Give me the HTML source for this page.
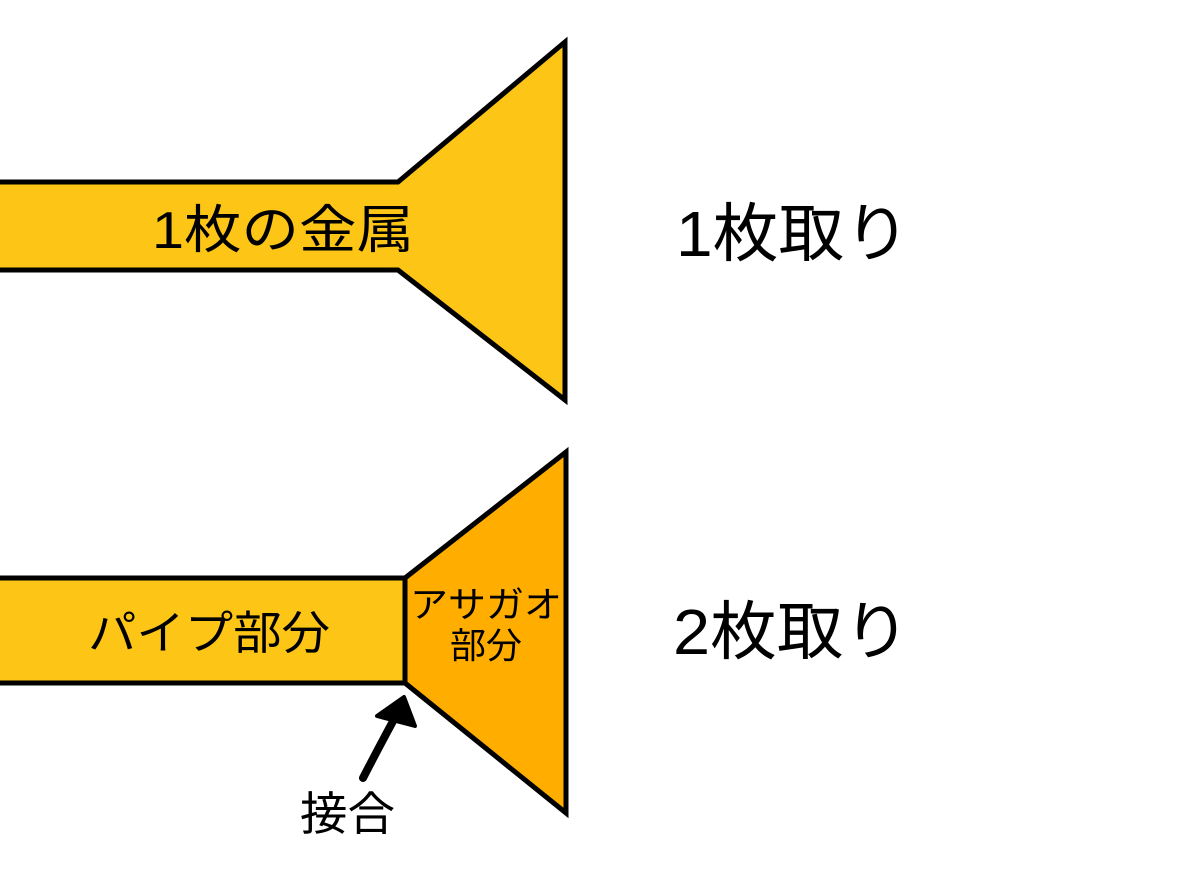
<!DOCTYPE html>
<html><head><meta charset="utf-8"><style>
html,body{margin:0;padding:0;background:#fff;}
svg{display:block;}
text{font-family:"Liberation Sans","Noto Sans CJK JP",sans-serif;fill:#000;}
</style></head><body>
<svg width="1179" height="884" viewBox="0 0 1179 884" xmlns="http://www.w3.org/2000/svg">
<polygon points="-5,182 398,182 565,42 565,400 398,270 -5,270" fill="#FDC515" stroke="#000" stroke-width="5" stroke-linejoin="miter"/>
<rect x="-5" y="578" width="410" height="105" fill="#FDC515" stroke="#000" stroke-width="5"/>
<polygon points="405,578 566,452 566,813 405,683" fill="#FFAE00" stroke="#000" stroke-width="5"/>
<path d="M363,778 Q380,745 398,712" stroke="#000" stroke-width="8" fill="none" stroke-linecap="round"/>
<polygon points="404,697 377,716 415,726" fill="#000" stroke="#000" stroke-width="4" stroke-linejoin="round"/>
<text x="283" y="248" font-size="52" text-anchor="middle" textLength="262" lengthAdjust="spacingAndGlyphs">1枚の金属</text>
<text x="676" y="256" font-size="64" textLength="234" lengthAdjust="spacingAndGlyphs">1枚取り</text>
<text x="673" y="654" font-size="64" textLength="237" lengthAdjust="spacingAndGlyphs">2枚取り</text>
<text x="88" y="649" font-size="46" textLength="242" lengthAdjust="spacingAndGlyphs">パイプ部分</text>
<text x="410" y="617" font-size="36" textLength="152" lengthAdjust="spacingAndGlyphs">アサガオ</text>
<text x="486" y="658" font-size="36" text-anchor="middle">部分</text>
<text x="300" y="830" font-size="46" textLength="95" lengthAdjust="spacingAndGlyphs">接合</text>
</svg>
</body></html>
